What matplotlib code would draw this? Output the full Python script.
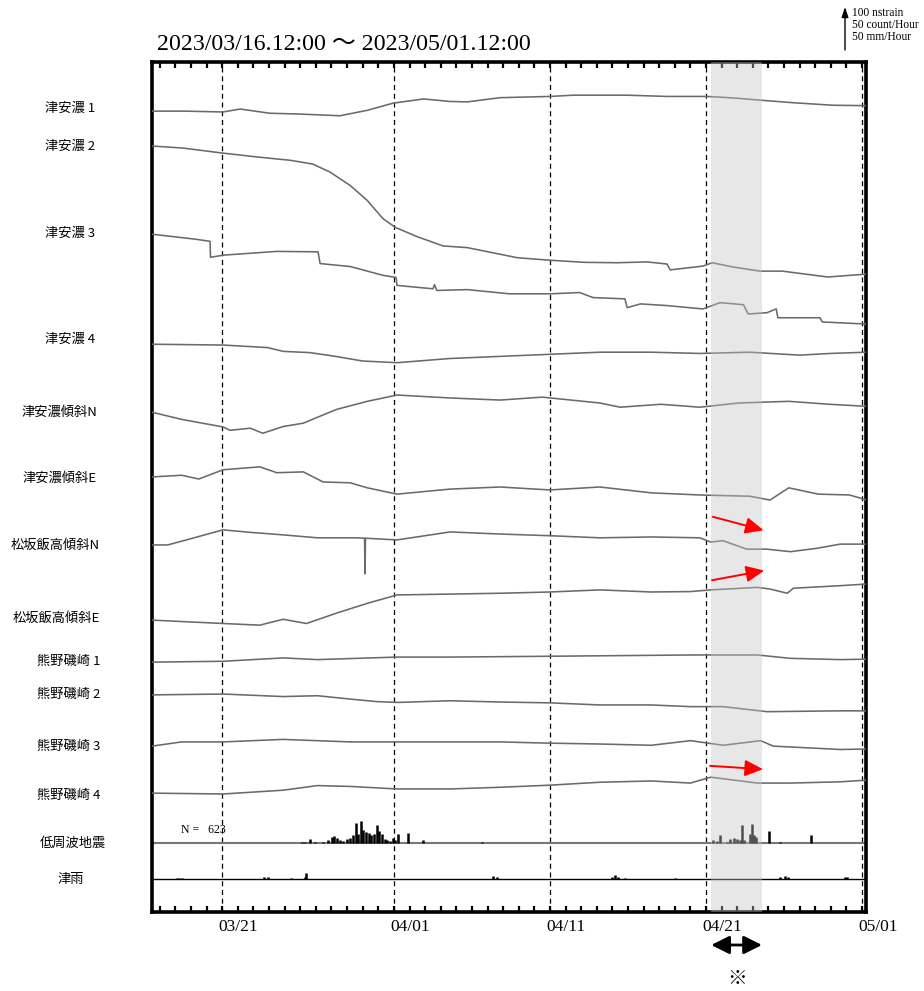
import datetime as dt
import numpy as np
import matplotlib
matplotlib.use("Agg")
import matplotlib.pyplot as plt
import matplotlib.dates as mdates
from matplotlib.transforms import ScaledTranslation

# --- time range (days counted from START) ---
START = dt.datetime(2023, 3, 16, 12)
END = dt.datetime(2023, 5, 1, 6)
LABEL_DATES = [dt.datetime(2023, 3, 21), dt.datetime(2023, 4, 1), dt.datetime(2023, 4, 11),
               dt.datetime(2023, 4, 21), dt.datetime(2023, 5, 1)]
SHADE = (dt.datetime(2023, 4, 21, 8), dt.datetime(2023, 4, 24, 14))

# --- strain / tilt traces: day offset and value (nstrain, relative to first sample) ---
tsu1_t = [0, 2.1, 4.55, 5.65, 7.55, 9.5, 12.05, 13.8, 15.45, 17.4, 19.1, 20.2, 22.3, 25.5,
          27.0, 30.45, 33.0, 35.6, 37.4, 39.0, 41.1, 43.65, 45.8]
tsu1_v = [0, 0, -2, 5, -5, -7, -11, 2, 19, 29, 23, 22, 32, 35, 38, 38, 35, 35, 31, 26, 20, 14, 13]

tsu2_t = [0, 2.0, 4.55, 6.7, 8.85, 10.3, 11.4, 12.7, 13.8, 14.8, 15.6, 17.0, 18.65, 20.2, 23.4,
          25.5, 27.7, 29.8, 31.7, 33.0, 33.2, 35.3, 35.9, 37.2, 38.97, 40.4, 43.3, 45.8]
tsu2_v = [0, -5, -17, -26, -34, -43, -62, -94, -130, -173, -194, -216, -238, -242, -266,
          -272, -277, -278, -276, -281, -295, -286, -278, -288, -298, -298, -312, -305]

tsu3_t = [0, 2.8, 3.72, 3.75, 4.55, 8.0, 10.64, 10.77, 12.7, 14.8, 15.64, 15.7, 18.0, 18.1,
          18.25, 20.2, 22.9, 25.5, 27.4, 28.27, 30.3, 30.45, 31.3, 33.0, 35.3, 36.4, 37.9,
          38.2, 39.4, 40.0, 40.1, 42.8, 42.95, 45.8]
tsu3_v = [0, -12, -17, -55, -50, -41, -42, -70, -77, -98, -103, -122, -130, -120,
          -134, -132, -142, -142, -139, -151, -154, -175, -166, -170, -178, -163, -168,
          -190, -187, -178, -199, -199, -209, -214]

tsu4_t = [0, 4.55, 7.4, 8.4, 10.1, 11.6, 13.5, 15.7, 19.1, 22.3, 25.5, 28.7, 32.0, 35.1,
          38.3, 41.5, 43.46, 45.8]
tsu4_v = [0, -2, -8, -17, -20, -28, -40, -44, -34, -29, -24, -19, -19, -22, -19, -26, -22, -19]

tsuN_t = [0, 1.9, 4.55, 5.0, 6.3, 7.1, 8.4, 9.7, 10.6, 11.85, 13.8, 15.7, 19.1, 22.3, 25.0,
          28.7, 30.0, 32.6, 35.1, 37.6, 40.8, 43.4, 45.8]
tsuN_v = [0, -17, -35, -43, -38, -50, -34, -26, -12, 7, 26, 41, 34, 29, 36,
          22, 12, 19, 12, 22, 26, 19, 14]

tsuE_t = [0, 1.9, 3.0, 4.55, 6.9, 8.0, 9.7, 10.96, 12.7, 13.8, 15.7, 19.1, 22.3, 25.5, 28.7,
          32.0, 35.1, 38.3, 39.6, 40.8, 42.7, 44.7, 45.8]
tsuE_v = [0, 4, -5, 17, 24, 10, 12, -12, -14, -26, -41, -29, -24, -31, -24,
          -38, -43, -46, -55, -26, -41, -43, -55]

matN_t = [0, 1.0, 2.6, 4.55, 6.3, 8.4, 10.6, 13.1, 13.62, 13.65, 13.68, 15.7, 19.1, 22.3,
          25.5, 28.7, 32.0, 35.1, 35.8, 36.6, 38.1, 39.4, 40.9, 42.6, 44.1, 45.8]
matN_v = [0, 0, 16, 36, 30, 24, 17, 17, 16, -69, 16, 12, 31, 26,
          22, 17, 19, 17, 7, 10, -10, -10, -16, -8, 2, 2]

matE_t = [0, 4.55, 6.9, 8.4, 9.9, 11.85, 13.8, 15.7, 19.1, 22.3, 25.5, 28.7, 32.0, 34.5,
          35.8, 38.8, 39.6, 40.7, 41.1, 44.1, 45.8]
matE_v = [0, -8, -12, 2, -8, 17, 40, 60, 62, 64, 67, 72, 67, 68,
          72, 78, 74, 64, 76, 82, 86]

kum1_t = [0, 4.55, 8.4, 10.6, 15.7, 19.1, 25.5, 34.5, 38.8, 40.9, 44.1, 45.8]
kum1_v = [0, 2, 10, 6, 12, 12, 14, 17, 17, 9, 6, 7]

kum2_t = [0, 4.55, 8.4, 10.6, 12.7, 14.4, 15.7, 19.1, 22.3, 25.5, 28.7, 32.0, 34.5, 36.6,
          39.4, 44.1, 45.8]
kum2_v = [0, 2, -4, -2, -10, -16, -18, -14, -17, -19, -24, -24, -28, -28, -40, -38, -38]

kum3_t = [0, 1.9, 4.55, 8.4, 12.7, 15.7, 19.1, 22.3, 25.5, 28.7, 32.0, 34.5, 36.6, 39.0,
          39.8, 44.1, 45.8]
kum3_v = [0, 10, 10, 16, 10, 10, 10, 10, 7, 5, 2, 13, 2, 13, 0, -8, -7]

kum4_t = [0, 4.55, 8.4, 10.6, 12.7, 15.7, 19.1, 22.3, 25.5, 28.7, 32.0, 34.5, 35.8, 38.8,
          40.9, 44.1, 45.8]
kum4_v = [0, -2, 7, 18, 16, 10, 10, 14, 19, 26, 29, 24, 38, 24, 24, 27, 31]

# --- low frequency earthquakes (count/hour) ---
eq_t = [9.62, 9.81, 10.13, 10.45, 10.96, 11.28, 11.54, 11.67, 11.86, 12.05, 12.24, 12.5,
        12.69, 12.88, 13.06, 13.22, 13.4, 13.54, 13.72, 13.89, 14.06, 14.23, 14.4, 14.57,
        14.74, 14.92, 15.08, 15.26, 15.43, 15.58, 15.79, 16.43, 17.39, 21.13,
        35.95, 36.2, 36.41, 36.84, 37.05, 37.26, 37.48, 37.69, 37.8, 37.95, 38.33, 38.46,
        38.59, 38.72, 39.53, 40.21, 42.22]
eq_n = [1.2, 1.2, 4.8, 1.2, 1.2, 3.6, 6.8, 8.3, 5.6, 3.6, 2.0, 4.8,
        6.0, 8.7, 23.8, 10.7, 25.8, 14.6, 12.7, 11.9, 8.7, 10.7, 20.6, 13.9,
        10.7, 4.8, 2.7, 2.0, 6.0, 3.6, 10.7, 11.9, 2.7, 1.2,
        2.7, 1.8, 8.7, 1.2, 4.8, 6.0, 3.9, 2.7, 21.4, 3.6, 10.7, 22.6,
        9.5, 6.8, 13.4, 1.2, 9.5]
EQ_TOTAL = 623

# --- rain at Tsu (mm/hour) ---
rain_t = [1.6, 1.75, 1.9, 7.15, 7.44, 8.9, 9.81, 9.87, 21.86, 22.1, 29.47, 29.68, 29.87,
          30.3, 33.5, 40.26, 40.58, 40.77, 44.42, 44.53]
rain_v = [0.8, 1.2, 0.8, 2.7, 2.0, 1.2, 2.0, 6.8, 3.9, 2.4, 2.7, 4.8, 2.7,
          1.2, 1.2, 1.6, 3.6, 1.8, 2.7, 2.4]

LABELS = ["津安濃 1", "津安濃 2", "津安濃 3", "津安濃 4", "津安濃傾斜N", "津安濃傾斜E",
          "松坂飯高傾斜N", "松坂飯高傾斜E", "熊野磯崎 1", "熊野磯崎 2", "熊野磯崎 3",
          "熊野磯崎 4", "低周波地震", "津雨"]
TRACES = [(tsu1_t, tsu1_v), (tsu2_t, tsu2_v), (tsu3_t, tsu3_v), (tsu4_t, tsu4_v),
          (tsuN_t, tsuN_v), (tsuE_t, tsuE_v), (matN_t, matN_v), (matE_t, matE_v),
          (kum1_t, kum1_v), (kum2_t, kum2_v), (kum3_t, kum3_v), (kum4_t, kum4_v)]

# --- layout (axis units: 100 nstrain = 42 px) ---
YMAX = 2024
OFFSETS = [1907, 1824, 1614, 1352, 1190, 1036, 874, 695, 595, 517, 395, 283]
EQ_BASE = 165
RAIN_BASE = 79
BAR_SCALE = 2.0            # 50 count/h (or mm/h) drawn as 100 units
LABEL_ROWS = [108, 146, 233, 339, 412, 478, 545, 618, 661, 694, 746, 795, 843, 880]
LABEL_RIGHT = [95, 95, 95, 95, 97, 97, 100, 100, 100, 100, 100, 100, 106, 84]

SERIF = ["Liberation Serif", "Noto Sans CJK JP"]
SANS = ["Noto Sans CJK JP", "DejaVu Sans"]
W, H = 924, 991


def main():
    x0 = mdates.date2num(START)

    def days(a):
        return x0 + np.asarray(a, dtype=float)

    fig = plt.figure(figsize=(W / 100, H / 100), dpi=100)
    ax = fig.add_axes([152 / W, 1 - 912 / H, (866 - 152) / W, (912 - 62) / H])
    ax.set_xlim(mdates.date2num(START), mdates.date2num(END))
    ax.set_ylim(0, YMAX)

    # shaded period
    ax.axvspan(mdates.date2num(SHADE[0]), mdates.date2num(SHADE[1]),
               color="#c4c4c4", alpha=0.4, lw=0, zorder=5)

    for d in LABEL_DATES:
        ax.axvline(mdates.date2num(d), color="black", lw=0.9, ls=(0, (4, 3)), zorder=1)

    for (t, v), off in zip(TRACES, OFFSETS):
        ax.plot(days(t), off + np.asarray(v, dtype=float), color="#6a6a6a", lw=1.15, zorder=3)

    # low frequency earthquakes
    ax.axhline(EQ_BASE, color="#777777", lw=1.5, zorder=2)
    ax.vlines(days(eq_t), EQ_BASE, EQ_BASE + np.asarray(eq_n) * BAR_SCALE,
              color="black", lw=1.8, zorder=3)
    ax.text(days(1.85), EQ_BASE + 30, f"N =   {EQ_TOTAL}", family=SERIF, fontsize=8.5,
            va="center", ha="left")

    # rain
    ax.axhline(RAIN_BASE, color="black", lw=1.0, zorder=2)
    ax.vlines(days(rain_t), RAIN_BASE, RAIN_BASE + np.asarray(rain_v) * BAR_SCALE,
              color="black", lw=1.8, zorder=3)

    # red arrows
    arrow_kw = dict(arrowstyle="-|>,head_length=1.0,head_width=0.45", mutation_scale=11,
                    color="red", lw=1.4, shrinkA=0, shrinkB=0)
    for (ta, ya), (tb, yb) in [((35.94, 941), (39.19, 909)),
                               ((35.88, 790), (39.23, 813)),
                               ((35.76, 348), (39.15, 340))]:
        ax.annotate("", xy=(days(tb), yb), xytext=(days(ta), ya), arrowprops=arrow_kw, zorder=6)

    # axes styling
    ax.set_yticks([])
    ax.xaxis.set_major_locator(matplotlib.ticker.FixedLocator(
        [mdates.date2num(d) for d in LABEL_DATES]))
    ax.xaxis.set_major_formatter(mdates.DateFormatter("%m/%d"))
    ax.xaxis.set_minor_locator(mdates.DayLocator())
    ax.tick_params(which="both", direction="in", top=True, bottom=True,
                   length=4, width=1.6, color="black")
    ax.tick_params(which="major", pad=5)
    for lab in ax.get_xticklabels():
        lab.set_family(SERIF)
        lab.set_fontsize(12.5)
        lab.set_ha("left")
        lab.set_transform(lab.get_transform() + ScaledTranslation(-4 / 100, 0, fig.dpi_scale_trans))
    for s in ax.spines.values():
        s.set_linewidth(2.6)

    # title and scale legend
    fig.text(157 / W, 1 - 45 / H, "2023/03/16.12:00 〜 2023/05/01.12:00", family=SERIF,
             fontsize=17.2, va="center", ha="left")
    fig.add_artist(matplotlib.patches.FancyArrowPatch(
        (845 / W, 1 - 50 / H), (845 / W, 1 - 7 / H), transform=fig.transFigure,
        arrowstyle="-|>,head_length=0.6,head_width=0.2", mutation_scale=10,
        color="black", lw=1.0, shrinkA=0, shrinkB=0))
    for txt, row in [("100 nstrain", 13), ("50 count/Hour", 25), ("50 mm/Hour", 37)]:
        fig.text(852 / W, 1 - row / H, txt, family=SERIF, fontsize=8.3, va="center", ha="left")

    # station labels
    for lab, row, xr in zip(LABELS, LABEL_ROWS, LABEL_RIGHT):
        fig.text(xr / W, 1 - row / H, lab, family=SANS, fontsize=9.5, va="center", ha="right")

    # period marker under the axis
    ax.annotate("", xy=(mdates.date2num(SHADE[1]), 1 - 945 / H),
                xytext=(mdates.date2num(SHADE[0]), 1 - 945 / H),
                xycoords=("data", "figure fraction"), textcoords=("data", "figure fraction"),
                arrowprops=dict(arrowstyle="<|-|>,head_length=1.0,head_width=0.5",
                                mutation_scale=11, color="black", lw=2.0,
                                shrinkA=0, shrinkB=0), annotation_clip=False)
    fig.text(737 / W, 1 - 978 / H, "※", family=SANS, fontsize=14, va="center", ha="center")

    fig.savefig("out.png", dpi=100)


if __name__ == "__main__":
    main()
